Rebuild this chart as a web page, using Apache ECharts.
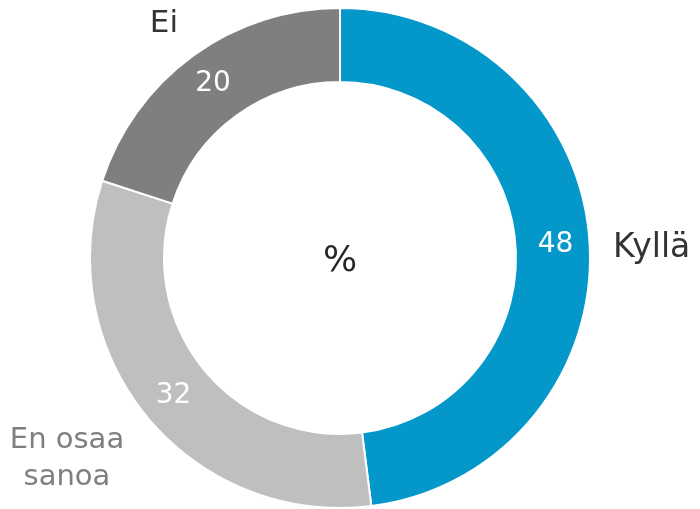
<!DOCTYPE html>
<html>
<head>
<meta charset="utf-8">
<script src="https://cdn.jsdelivr.net/npm/echarts@6/dist/echarts.min.js"></script>
<style>
html,body{margin:0;padding:0;background:#fff;}
#chart{width:700px;height:509px;}
</style>
</head>
<body>
<div id="chart"></div>
<script>
const categories = ['Kyllä', 'En osaa\nsanoa', 'Ei'];
const values = [48, 32, 20];
const colors = ['#0397CA', '#BFBFBF', '#7F7F7F'];
const nameColors = ['#333333', '#7F7F7F', '#333333'];
const nameSizes = [33, 29, 31];
const namePos = [[613, 248, 'left'], [67, 459, 'center'], [178, 24, 'right']];

const chart = echarts.init(document.getElementById('chart'));
const font = 'DejaVu Sans, Verdana, sans-serif';

chart.setOption({
  animation: false,
  graphic: [{
    type: 'text', x: 340, y: 262,
    style: { text: '%', textAlign: 'center', textVerticalAlign: 'middle', fontSize: 36, fontFamily: font, fill: '#262626' }
  }],
  series: [
    {
      type: 'pie',
      center: [340, 258],
      radius: [176, 250],
      startAngle: 90,
      clockwise: true,
      silent: true,
      itemStyle: { borderColor: '#fff', borderWidth: 2 },
      label: { show: true, position: 'inside', color: '#fff', fontSize: 28, fontFamily: font, formatter: '{c}' },
      labelLine: { show: false },
      data: categories.map((c, i) => ({ name: c, value: values[i], itemStyle: { color: colors[i] } }))
    },
    {
      type: 'pie',
      center: [340, 258],
      radius: [176, 250],
      startAngle: 90,
      clockwise: true,
      silent: true,
      z: 1,
      itemStyle: { color: 'rgba(0,0,0,0)', borderWidth: 0 },
      label: { show: true, position: 'outside', overflow: 'none', fontSize: 30, fontFamily: font, lineHeight: 36, formatter: '{b}' },
      labelLine: { show: false },
      labelLayout: function (p) {
        const q = namePos[p.dataIndex];
        return { x: q[0], y: q[1], align: q[2], verticalAlign: 'middle' };
      },
      data: categories.map((c, i) => ({
        name: c, value: values[i],
        label: { color: nameColors[i], fontSize: nameSizes[i], lineHeight: 37, overflow: 'none' }
      }))
    }
  ]
});
</script>
</body>
</html>
